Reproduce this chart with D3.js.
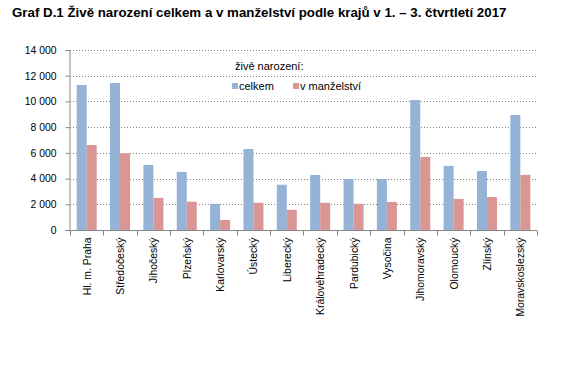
<!DOCTYPE html>
<html>
<head>
<meta charset="utf-8">
<script src="https://d3js.org/d3.v7.min.js"></script>
<style>
  body { margin: 0; background: #fff; }
  svg { font-family: "Liberation Sans", Arial, sans-serif; }
  .title { font-weight: bold; font-size: 13.3px; fill: #000; }
  .grid line { stroke: #808080; stroke-dasharray: 1,2; }
  .axis path, .axis line { stroke: #868686; }
  .axis text { font-size: 10.4px; fill: #000; }
  .legend text { font-size: 11px; fill: #000; }
</style>
</head>
<body>
<script>
// data
var regions = ["Hl. m. Praha", "Středočeský", "Jihočeský", "Plzeňský", "Karlovarský",
  "Ústecký", "Liberecký", "Královéhradecký", "Pardubický", "Vysočina",
  "Jihomoravský", "Olomoucký", "Zlínský", "Moravskoslezský"];
var celkem = [11280, 11430, 5060, 4520, 2040, 6300, 3520, 4280, 3970, 3970, 10110, 4990, 4590, 8940];
var vManzelstvi = [6610, 5960, 2500, 2200, 780, 2120, 1570, 2120, 2040, 2180, 5680, 2420, 2560, 4290];
var seriesNames = ["celkem", "v manželství"];
var colors = ["#95b3d7", "#d99694"];
var yTicks = [0, 2000, 4000, 6000, 8000, 10000, 12000, 14000];

var W = 572, H = 368;
var margin = {top: 50, left: 70, right: 35, bottom: 138};
var width = W - margin.left - margin.right,
    height = H - margin.top - margin.bottom;

var svg = d3.select("body").append("svg")
    .attr("width", W)
    .attr("height", H);

svg.append("text")
    .attr("class", "title")
    .attr("x", 12)
    .attr("y", 17)
    .text("Graf D.1 Živě narození celkem a v manželství podle krajů v 1. – 3. čtvrtletí 2017");

var g = svg.append("g")
    .attr("transform", "translate(" + margin.left + "," + margin.top + ")");

var x0 = d3.scaleBand().domain(regions).range([0, width]);
var bw = x0.bandwidth();
var x1 = d3.scaleBand().domain(seriesNames).range([bw * 0.2, bw * 0.8]);
var y = d3.scaleLinear().domain([0, 14000]).range([height, 0]);

// gridlines
g.append("g")
    .attr("class", "grid")
    .selectAll("line")
    .data(yTicks.slice(1))
    .enter().append("line")
    .attr("x1", 0)
    .attr("x2", width)
    .attr("y1", function (d) { return Math.round(y(d)) + 0.5; })
    .attr("y2", function (d) { return Math.round(y(d)) + 0.5; });

// bars
var rows = regions.map(function (r, i) {
    return {region: r, values: [celkem[i], vManzelstvi[i]]};
});
var groups = g.selectAll(".grp")
    .data(rows)
    .enter().append("g")
    .attr("class", "grp")
    .attr("transform", function (d) { return "translate(" + x0(d.region) + ",0)"; });
groups.selectAll("rect")
    .data(function (d) {
        return d.values.map(function (v, j) { return {s: seriesNames[j], v: v, c: colors[j]}; });
    })
    .enter().append("rect")
    .attr("x", function (d) { return x1(d.s); })
    .attr("width", x1.bandwidth())
    .attr("y", function (d) { return y(d.v); })
    .attr("height", function (d) { return height - y(d.v); })
    .attr("fill", function (d) { return d.c; });

// y axis
var yAxis = g.append("g")
    .attr("class", "axis")
    .attr("transform", "translate(-0.5,0)")
    .call(d3.axisLeft(y).tickValues(yTicks).tickSizeOuter(0).tickSize(4).tickPadding(9)
        .tickFormat(function (d) { return d3.format(",")(d).replace(",", " "); }));

// x axis with ticks at category boundaries
var xAxis = g.append("g")
    .attr("class", "axis")
    .attr("transform", "translate(0," + (height + 0.5) + ")");
xAxis.append("line")
    .attr("x1", 0).attr("x2", width);
xAxis.selectAll(".bt")
    .data(d3.range(regions.length + 1))
    .enter().append("line")
    .attr("x1", function (i) { return Math.round(i * bw) + 0.5; })
    .attr("x2", function (i) { return Math.round(i * bw) + 0.5; })
    .attr("y1", 0).attr("y2", 5);
xAxis.selectAll("text")
    .data(regions)
    .enter().append("text")
    .attr("transform", function (d) {
        return "translate(" + (x0(d) + bw / 2 + 4) + ",7) rotate(-90)";
    })
    .attr("text-anchor", "end")
    .text(function (d) { return d; });

// legend
var legend = svg.append("g").attr("class", "legend");
legend.append("text").attr("x", 235).attr("y", 70).text("živě narození:");
var litems = [{x: 232, t: seriesNames[0], c: colors[0]}, {x: 293, t: seriesNames[1], c: colors[1]}];
litems.forEach(function (d) {
    legend.append("rect").attr("x", d.x).attr("y", 83).attr("width", 6).attr("height", 6).attr("fill", d.c);
    legend.append("text").attr("x", d.x + 7).attr("y", 89.5).text(d.t);
});
</script>
</body>
</html>
